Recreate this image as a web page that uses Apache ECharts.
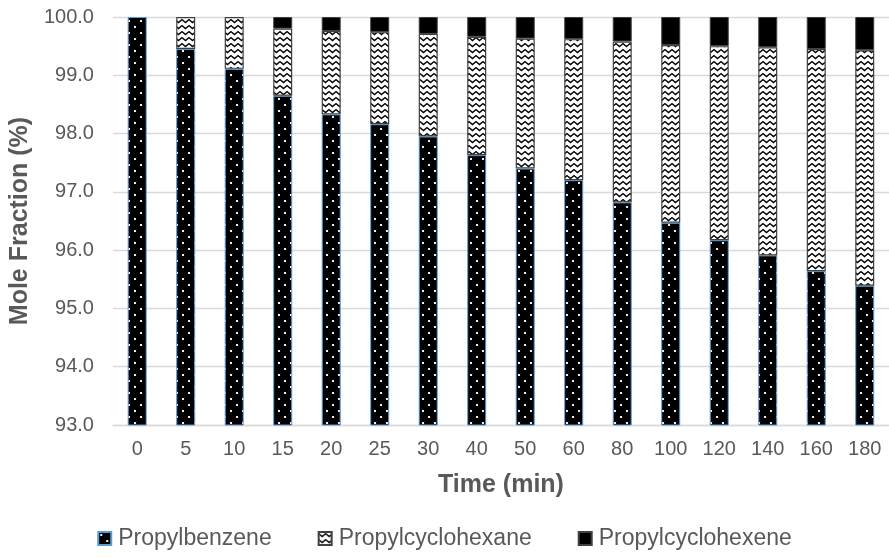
<!DOCTYPE html>
<html>
<head>
<meta charset="utf-8">
<script src="https://cdn.jsdelivr.net/npm/echarts@6/dist/echarts.min.js"></script>
<style>
  html, body { margin: 0; padding: 0; background: #fff; }
  #chart { width: 889px; height: 558px; }
</style>
</head>
<body>
<div id="chart"></div>
<script>
// Sampling times (min)
const timeLabels = ['0', '5', '10', '15', '20', '25', '30', '40', '50', '60', '80', '100', '120', '140', '160', '180'];

// Product distribution, mole fraction (%)
const propylbenzene     = [100.0, 99.45, 99.11, 98.65, 98.33, 98.16, 97.95, 97.63, 97.40, 97.20, 96.82, 96.47, 96.17, 95.91, 95.64, 95.39];
const propylcyclohexane = [0.00, 0.55, 0.89, 1.15, 1.43, 1.58, 1.76, 2.03, 2.23, 2.42, 2.76, 3.05, 3.33, 3.57, 3.81, 4.04];
const propylcyclohexene = [0.00, 0.00, 0.00, 0.20, 0.24, 0.26, 0.29, 0.34, 0.37, 0.38, 0.42, 0.48, 0.50, 0.52, 0.55, 0.57];

// Y axis ticks
const yMin = 93, yMax = 100, yStep = 1;

// Fill patterns
function dotPattern() {
  const c = document.createElement('canvas');
  c.width = 12; c.height = 12;
  const g = c.getContext('2d');
  g.fillStyle = '#000';
  g.fillRect(0, 0, 12, 12);
  g.fillStyle = '#f0f0f0';
  g.fillRect(2, 2, 2, 2);
  g.fillRect(8, 8, 2, 2);
  return c;
}
function zigzagPattern() {
  const c = document.createElement('canvas');
  c.width = 7; c.height = 6;
  const g = c.getContext('2d');
  g.fillStyle = '#fff';
  g.fillRect(0, 0, 7, 6);
  g.strokeStyle = '#000';
  g.lineWidth = 1.5;
  g.beginPath();
  g.moveTo(-0.5, 1.2);
  g.lineTo(3.5, 4.6);
  g.lineTo(7.5, 1.2);
  g.stroke();
  return c;
}

const blank = v => (v === 0 ? '-' : v);
const font = '"Liberation Sans", Arial, sans-serif';

const chart = echarts.init(document.getElementById('chart'), null, { renderer: 'canvas' });
chart.setOption({
  animation: false,
  grid: { left: 112, right: 0, top: 17, bottom: 133 },
  legend: {
    bottom: 3,
    left: 'center',
    itemWidth: 13,
    itemHeight: 13,
    itemGap: 46,
    icon: 'rect',
    textStyle: { fontFamily: font, fontSize: 23, color: '#595959', padding: [0, 0, 0, 2] },
    data: ['Propylbenzene', 'Propylcyclohexane', 'Propylcyclohexene']
  },
  xAxis: {
    type: 'category',
    data: timeLabels,
    name: 'Time (min)',
    nameLocation: 'middle',
    nameGap: 48,
    nameTextStyle: { fontFamily: font, fontSize: 25, fontWeight: 'bold', color: '#595959' },
    axisLine: { lineStyle: { color: '#d9d9d9', width: 1.3 } },
    axisTick: { show: false },
    axisLabel: { fontFamily: font, fontSize: 20, color: '#595959', margin: 14 }
  },
  yAxis: {
    type: 'value',
    min: yMin,
    max: yMax,
    interval: yStep,
    name: 'Mole Fraction (%)',
    nameLocation: 'middle',
    nameGap: 76,
    nameTextStyle: { fontFamily: font, fontSize: 25, fontWeight: 'bold', color: '#595959' },
    axisLine: { show: false },
    axisTick: { show: false },
    splitLine: { lineStyle: { color: '#d9d9d9', width: 1.3 } },
    axisLabel: {
      fontFamily: font, fontSize: 20, color: '#595959', margin: 19,
      formatter: v => v.toFixed(1)
    }
  },
  series: [
    {
      name: 'Propylbenzene',
      type: 'bar',
      stack: 'total',
      barWidth: 19,
      data: propylbenzene.map(blank),
      itemStyle: {
        color: { image: dotPattern(), repeat: 'repeat' },
        borderColor: '#5b9bd5',
        borderWidth: 1
      }
    },
    {
      name: 'Propylcyclohexane',
      type: 'bar',
      stack: 'total',
      barWidth: 19,
      data: propylcyclohexane.map(blank),
      itemStyle: {
        color: { image: zigzagPattern(), repeat: 'repeat' },
        borderColor: '#404040',
        borderWidth: 1.2
      }
    },
    {
      name: 'Propylcyclohexene',
      type: 'bar',
      stack: 'total',
      barWidth: 19,
      data: propylcyclohexene.map(blank),
      itemStyle: {
        color: '#000',
        borderColor: '#404040',
        borderWidth: 1
      }
    }
  ]
});
</script>
</body>
</html>
